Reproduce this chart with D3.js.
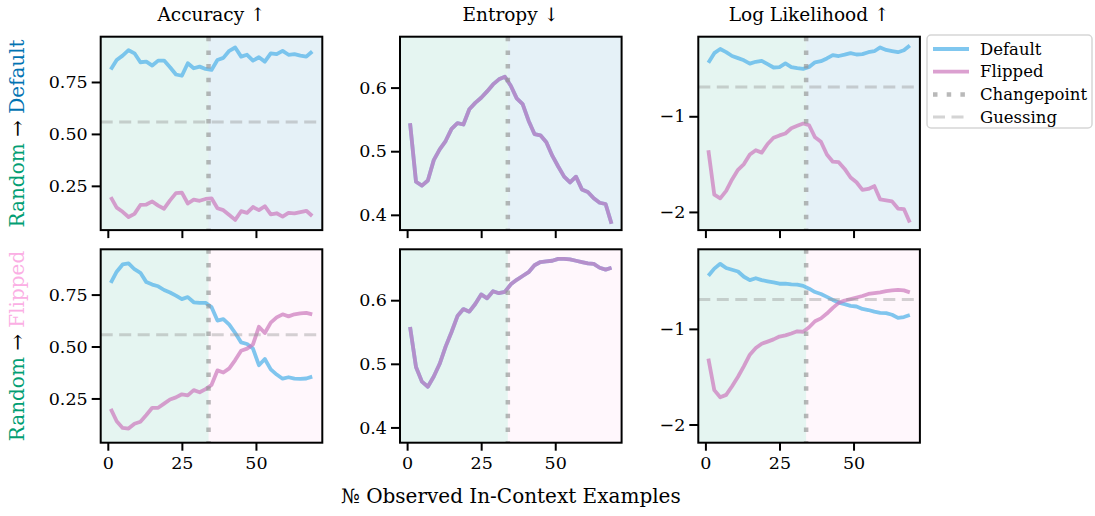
<!DOCTYPE html>
<html>
<head>
<meta charset="utf-8">
<script src="https://cdn.jsdelivr.net/npm/d3@7"></script>
<style>
	body { margin: 0; background: #fff; }
	text { font-family: "DejaVu Serif", serif; fill: #000; }
</style>
</head>
<body>
<svg id="chart"></svg>
<script>
// number of observed examples (every other step)
var steps = [1,3,5,7,9,11,13,15,17,19,21,23,25,27,29,31,33,35,37,39,41,43,45,47,49,51,53,55,57,59,61,63,65,67,69];
var changepoint = 34;

var accDefaultTop = [0.81,0.856,0.877,0.903,0.888,0.845,0.848,0.829,0.853,0.853,0.821,0.786,0.78,0.84,0.816,0.824,0.813,0.808,0.856,0.866,0.9,0.916,0.872,0.881,0.853,0.869,0.848,0.888,0.884,0.9,0.881,0.884,0.877,0.872,0.897];
var accFlippedTop = [0.196,0.145,0.125,0.100,0.115,0.158,0.16,0.175,0.155,0.14,0.18,0.215,0.217,0.165,0.184,0.178,0.187,0.19,0.142,0.133,0.11,0.086,0.128,0.12,0.148,0.133,0.152,0.113,0.118,0.102,0.12,0.118,0.124,0.13,0.105];
var accDefaultBottom = [0.806,0.86,0.895,0.9,0.872,0.855,0.81,0.798,0.79,0.772,0.76,0.745,0.728,0.738,0.713,0.71,0.71,0.69,0.625,0.632,0.605,0.565,0.52,0.512,0.49,0.41,0.44,0.39,0.365,0.345,0.352,0.345,0.344,0.346,0.355];
var accFlippedBottom = [0.2,0.14,0.108,0.105,0.128,0.138,0.17,0.205,0.205,0.225,0.245,0.255,0.27,0.265,0.29,0.28,0.295,0.315,0.385,0.375,0.395,0.435,0.48,0.49,0.51,0.595,0.565,0.615,0.64,0.655,0.645,0.655,0.66,0.662,0.655];

// binary entropy is the same for both label sets, so both lines sit on top of each other
var entropyTop = [0.544,0.452,0.446,0.454,0.486,0.503,0.516,0.535,0.544,0.542,0.566,0.576,0.584,0.594,0.605,0.613,0.617,0.603,0.583,0.574,0.548,0.527,0.525,0.514,0.493,0.476,0.46,0.451,0.46,0.44,0.436,0.426,0.419,0.417,0.386];
var entropyBottom = [0.558,0.495,0.472,0.464,0.48,0.5,0.527,0.55,0.575,0.586,0.582,0.594,0.609,0.603,0.614,0.611,0.613,0.625,0.632,0.638,0.644,0.655,0.66,0.661,0.662,0.665,0.665,0.664,0.662,0.66,0.658,0.657,0.651,0.648,0.651];

var llDefaultTop = [-0.44,-0.34,-0.297,-0.33,-0.37,-0.392,-0.415,-0.45,-0.43,-0.42,-0.455,-0.49,-0.485,-0.447,-0.486,-0.497,-0.505,-0.485,-0.436,-0.424,-0.395,-0.36,-0.37,-0.356,-0.34,-0.354,-0.35,-0.33,-0.32,-0.28,-0.306,-0.318,-0.33,-0.31,-0.26];
var llFlippedTop = [-1.354,-1.82,-1.858,-1.78,-1.66,-1.56,-1.5,-1.40,-1.355,-1.38,-1.29,-1.225,-1.2,-1.18,-1.125,-1.1,-1.076,-1.094,-1.22,-1.267,-1.4,-1.475,-1.48,-1.55,-1.64,-1.69,-1.77,-1.76,-1.73,-1.87,-1.88,-1.89,-1.965,-1.97,-2.11];
var llDefaultBottom = [-0.445,-0.37,-0.32,-0.364,-0.382,-0.4,-0.455,-0.49,-0.47,-0.49,-0.503,-0.515,-0.528,-0.528,-0.535,-0.538,-0.55,-0.58,-0.615,-0.635,-0.665,-0.697,-0.725,-0.742,-0.76,-0.766,-0.792,-0.803,-0.82,-0.832,-0.836,-0.852,-0.885,-0.876,-0.855];
var llFlippedBottom = [-1.31,-1.64,-1.715,-1.69,-1.6,-1.5,-1.39,-1.27,-1.2,-1.155,-1.133,-1.11,-1.08,-1.068,-1.048,-1.025,-1.03,-0.983,-0.92,-0.89,-0.84,-0.78,-0.728,-0.703,-0.688,-0.672,-0.656,-0.635,-0.626,-0.618,-0.605,-0.598,-0.592,-0.598,-0.618];

var columnTitles = ["Accuracy \u2191", "Entropy \u2193", "Log Likelihood \u2191"];
var rowTargets = ["Default", "Flipped"];
var xTicks = [0, 25, 50];
var yTicks = [[0.25, 0.5, 0.75], [0.4, 0.5, 0.6], [-2, -1]];
var yFormats = [d3.format(".2f"), d3.format(".1f"), d3.format("d")];
var yDomains = [[0.037, 0.968], [0.376, 0.68], [-2.19, -0.168]];
var guessing = [0.557, null, -0.693];
var legendLabels = ["Default", "Flipped", "Changepoint", "Guessing"];

var width = 1095;
var height = 516;
var colLeft = [100.7, 400, 698.3];
var rowTop = [36.7, 249.3];
var panelW = 221.6;
var panelH = 193.4;

var cRandom = "#029e73";
var cDefaultText = "#0173b2";
var cFlippedText = "#fbafe4";
var cDefault = "#56b4e9";
var cFlipped = "#cc78bc";
var cGray = "#949494";

var svg = d3.select("#chart").attr("width", width).attr("height", height);

var x = d3.scaleLinear().domain([-2.4, 72.4]).range([0, panelW]);

var series = [
	[[accDefaultTop, accFlippedTop], [entropyTop, entropyTop], [llDefaultTop, llFlippedTop]],
	[[accDefaultBottom, accFlippedBottom], [entropyBottom, entropyBottom], [llDefaultBottom, llFlippedBottom]]
];

for (var r = 0; r < 2; r++) {
	for (var c = 0; c < 3; c++) {
		drawPanel(r, c);
	}
}

function drawPanel(r, c) {
	var g = svg.append("g").attr("transform", "translate(" + colLeft[c] + "," + rowTop[r] + ")");
	var y = d3.scaleLinear().domain(yDomains[c]).range([panelH, 0]);

	// shaded regimes before / after the changepoint
	g.append("rect")
		.attr("x", 0).attr("y", 0)
		.attr("width", x(changepoint)).attr("height", panelH)
		.attr("fill", cRandom).attr("fill-opacity", 0.1);
	g.append("rect")
		.attr("x", x(changepoint)).attr("y", 0)
		.attr("width", panelW - x(changepoint)).attr("height", panelH)
		.attr("fill", r == 0 ? cDefaultText : cFlippedText).attr("fill-opacity", 0.1);

	var line = d3.line()
		.x(function(d, i) { return x(steps[i]); })
		.y(function(d) { return y(d); });

	var pair = series[r][c];
	g.append("path").datum(pair[0])
		.attr("d", line)
		.attr("fill", "none")
		.attr("stroke", cDefault).attr("stroke-opacity", 0.75)
		.attr("stroke-width", 3.8)
		.attr("stroke-linejoin", "round");
	g.append("path").datum(pair[1])
		.attr("d", line)
		.attr("fill", "none")
		.attr("stroke", cFlipped).attr("stroke-opacity", 0.7)
		.attr("stroke-width", 3.8)
		.attr("stroke-linejoin", "round");

	if (guessing[c] !== null) {
		g.append("line")
			.attr("x1", 0).attr("x2", panelW)
			.attr("y1", y(guessing[c])).attr("y2", y(guessing[c]))
			.attr("stroke", cGray).attr("stroke-opacity", 0.4)
			.attr("stroke-width", 3)
			.attr("stroke-dasharray", "12,6.5");
	}

	g.append("line")
		.attr("x1", x(changepoint)).attr("x2", x(changepoint))
		.attr("y1", 0).attr("y2", panelH)
		.attr("stroke", cGray).attr("stroke-opacity", 0.65)
		.attr("stroke-width", 4.5)
		.attr("stroke-dasharray", "4.5,9.2");

	var xAxis = d3.axisBottom(x).tickValues(xTicks).tickSize(8).tickPadding(6);
	if (r == 0) xAxis.tickFormat("");
	var gx = g.append("g").attr("transform", "translate(0," + panelH + ")").call(xAxis);

	var yAxis = d3.axisLeft(y).tickValues(yTicks[c]).tickSize(9).tickPadding(4)
		.tickFormat(function(d) { return yFormats[c](d).replace("-", "\u2212"); });
	var gy = g.append("g").call(yAxis);

	[gx, gy].forEach(function(a) {
		a.select(".domain").remove();
		a.selectAll(".tick line").attr("stroke", "#000").attr("stroke-width", 2);
		a.selectAll(".tick text")
			.style("font-family", "DejaVu Serif")
			.style("font-size", "17.5px");
	});

	g.append("rect")
		.attr("width", panelW).attr("height", panelH)
		.attr("fill", "none").attr("stroke", "#000").attr("stroke-width", 2);

	if (r == 0) {
		g.append("text")
			.attr("x", panelW / 2).attr("y", -15.5)
			.attr("text-anchor", "middle")
			.style("font-size", "18.5px")
			.text(columnTitles[c]);
	}
}

// row labels, rotated
rowTargets.forEach(function(t, r) {
	var label = svg.append("text")
		.attr("transform", "translate(24," + (rowTop[r] + panelH / 2) + ") rotate(-90)")
		.attr("text-anchor", "middle")
		.style("font-size", "20px");
	label.append("tspan").attr("fill", cRandom).text("Random");
	label.append("tspan").text(" \u2192 ");
	label.append("tspan").attr("fill", r == 0 ? cDefaultText : cFlippedText).text(t);
});

svg.append("text")
	.attr("x", colLeft[1] + panelW / 2).attr("y", 503)
	.attr("text-anchor", "middle")
	.style("font-size", "20px")
	.text("\u2116 Observed In-Context Examples");

// legend
var legend = svg.append("g").attr("transform", "translate(927,35)");
legend.append("rect")
	.attr("width", 165).attr("height", 93)
	.attr("rx", 4)
	.attr("fill", "#fff").attr("fill-opacity", 0.8)
	.attr("stroke", "#d6d6d6").attr("stroke-width", 1.5);

var legendStyles = [
	{ stroke: cDefault, opacity: 0.75, width: 3.8, dash: null },
	{ stroke: cFlipped, opacity: 0.7, width: 3.8, dash: null },
	{ stroke: cGray, opacity: 0.65, width: 4.5, dash: "4.5,9.2" },
	{ stroke: cGray, opacity: 0.4, width: 3, dash: "12,6.5" }
];

var item = legend.selectAll(".item")
	.data(legendLabels)
	.enter().append("g")
	.attr("class", "item")
	.attr("transform", function(d, i) { return "translate(0," + (14 + i * 22.7) + ")"; });

item.append("line")
	.attr("x1", 6).attr("x2", 42)
	.attr("stroke", function(d, i) { return legendStyles[i].stroke; })
	.attr("stroke-opacity", function(d, i) { return legendStyles[i].opacity; })
	.attr("stroke-width", function(d, i) { return legendStyles[i].width; })
	.attr("stroke-dasharray", function(d, i) { return legendStyles[i].dash; });

item.append("text")
	.attr("x", 53).attr("dy", "0.35em")
	.style("font-size", "16.5px")
	.text(function(d) { return d; });
</script>
</body>
</html>
